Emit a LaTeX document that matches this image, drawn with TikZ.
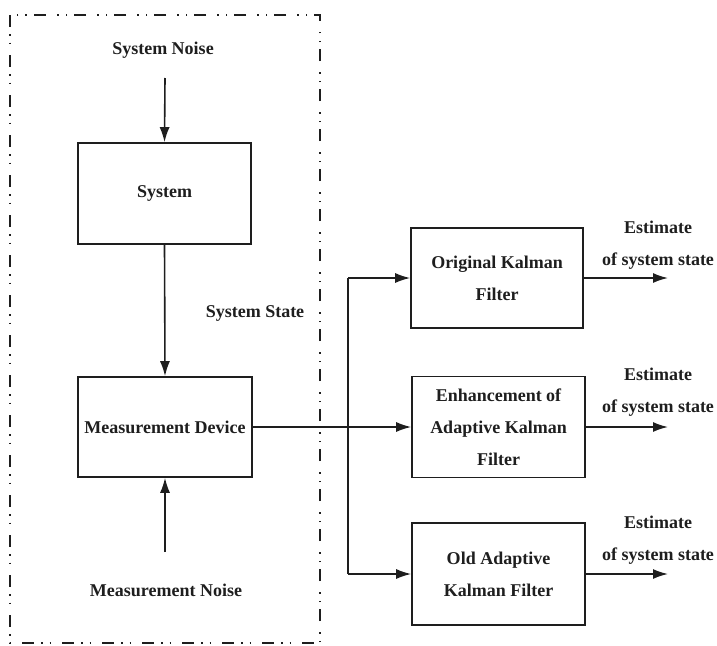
\documentclass[tikz,border=0pt]{standalone}
\usepackage{fontspec}
\setmainfont{Liberation Serif}
\usetikzlibrary{arrows.meta}
\definecolor{ink}{HTML}{1E1E1E}
\begin{document}
\begin{tikzpicture}[x=1pt,y=-1pt,
  txt/.style={text=ink, font=\fontsize{18}{32}\selectfont\bfseries, align=center, inner sep=0pt},
  blk/.style={txt, draw=ink, line width=1.6pt, minimum width=173pt, minimum height=101pt},
  conn/.style={draw=ink, line width=1.6pt},
  arr/.style={conn, -{Latex[length=15pt,width=10pt]}},
  frame/.style={draw=ink, line width=1.5pt, dash pattern=on 12pt off 7pt on 1.5pt off 7pt on 1.5pt off 11pt}]
\useasboundingbox (0,0) rectangle (717,645);
% dashed frame
\draw[frame] (10,15) rectangle (320,643);
% left column
\node[txt] (sn) at (163,50) {System Noise};
\coordinate (snend) at (165,78);
\node[blk] (sys) at (164.5,193.5) {System};
\node[txt] (ss) at (255,313) {System State};
\node[blk, minimum width=174pt, minimum height=100pt] (md) at (165,427) {Measurement Device};
\coordinate (mnend) at (165,552);
\node[txt] (mn) at (166,590) {Measurement Noise};
% filters
\node[blk, minimum width=172pt, minimum height=100pt] (okf) at (497,278) {Original Kalman\\Filter};
\node[blk] (enh) at (498.5,427) {Enhancement of\\Adaptive Kalman\\Filter};
\node[blk, minimum height=102pt] (old) at (498.5,574) {Old Adaptive\\Kalman Filter};
% junction
\coordinate (j) at (348,427);
\coordinate (jt) at (j |- okf.west);
\coordinate (jb) at (j |- old.west);
% connectors
\draw[arr] (snend) -- (sys.north);
\draw[arr] (sys.south) -- (md.north);
\draw[arr] (mnend) -- (md.south);
\draw[arr] (md.east) -- (enh.west);
\draw[conn] (jt) -- (jb);
\draw[arr] (jt) -- (okf.west);
\draw[arr] (jb) -- (old.west);
% outputs
\coordinate (o1) at (668,278);
\coordinate (o2) at (668,427);
\coordinate (o3) at (668,574);
\draw[arr] (okf.east) -- (o1);
\draw[arr] (enh.east) -- (o2);
\draw[arr] (old.east) -- (o3);
\node[txt] (e1) at (658,245.5) {Estimate\\of system state};
\node[txt] (e2) at (658,392) {Estimate\\of system state};
\node[txt] (e3) at (658,540) {Estimate\\of system state};
\end{tikzpicture}
\end{document}
